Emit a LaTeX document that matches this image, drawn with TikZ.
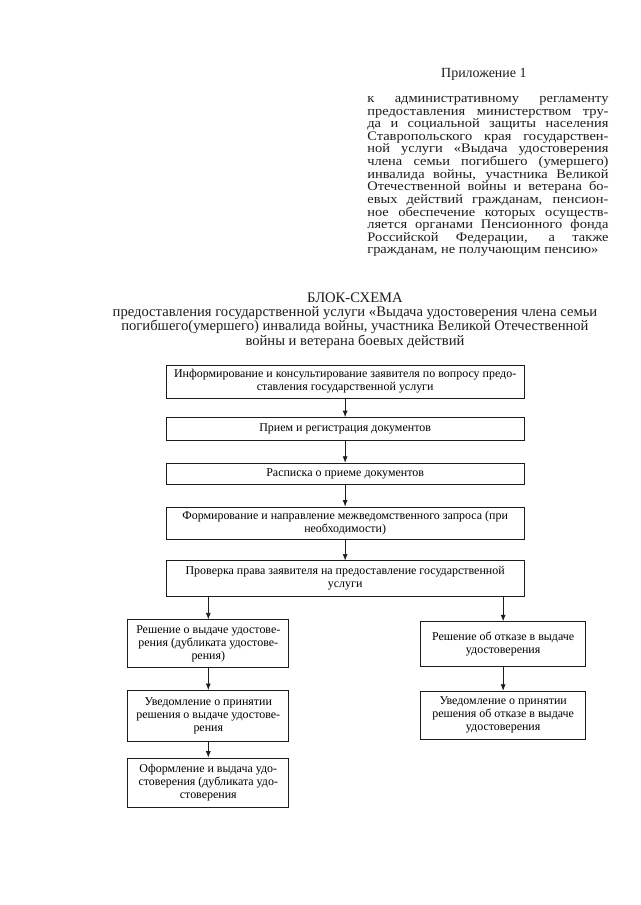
\documentclass[tikz,border=0pt]{standalone}
\usepackage{fontspec}
\setmainfont{Liberation Serif}
\newfontfamily\widefont[FakeStretch=1.11]{Liberation Serif}
\usetikzlibrary{arrows.meta,positioning}
\definecolor{Ink}{HTML}{1C1C1C}
\tikzset{
  stepbox/.style={draw=Ink,fill=white,line width=.5pt,align=center,inner xsep=.08cm,inner ysep=.05cm,font=\fontsize{9}{10}\selectfont},
  mainbox/.style={stepbox,minimum width=9.47cm},
  leftbox/.style={stepbox,minimum width=4.26cm},
  rightbox/.style={stepbox,minimum width=4.37cm},
  flow/.style={-{Latex[length=1.7mm,width=1.3mm]},draw=Ink,line width=.5pt},
  note/.style={inner sep=0pt,text=Ink,font=\widefont\fontsize{9.8}{9.5}\selectfont}
}
\begin{document}
\begin{tikzpicture}[node distance=.56cm]
  \useasboundingbox (0,0) rectangle (16.93,-23.94);
  % heading of the appendix
  \node[note,font=\fontsize{10.5}{10}\selectfont] (annex) at (12.80,-1.98) {Приложение 1};
  \node[note,anchor=north west,text width=6.38cm,align=justify] (regl) at (9.71,-2.54)
    {к административному регламенту\linebreak
     предоставления министерством тру-\linebreak
     да и социальной защиты населения\linebreak
     Ставропольского края государствен-\linebreak
     ной услуги «Выдача удостоверения\linebreak
     члена семьи погибшего (умершего)\linebreak
     инвалида войны, участника Великой\linebreak
     Отечественной войны и ветерана бо-\linebreak
     евых действий гражданам, пенсион-\linebreak
     ное обеспечение которых осуществ-\linebreak
     ляется органами Пенсионного фонда\linebreak
     Российской Федерации, а также\linebreak
     гражданам, не получающим пенсию»};
  \node[note,anchor=north,align=center,font=\fontsize{11}{10.8}\selectfont] (title) at (9.39,-7.73)
    {БЛОК-СХЕМА\\
     предоставления государственной услуги «Выдача удостоверения члена семьи\\
     погибшего(умершего) инвалида войны, участника Великой Отечественной\\
     войны и ветерана боевых действий};
  % main column
  \node[mainbox,minimum height=.87cm] (inform) at (9.13,-10.09)
    {Информирование и консультирование заявителя по вопросу предо-\\ставления государственной услуги};
  \node[mainbox,minimum height=.61cm,below=.50cm of inform] (accept) {Прием и регистрация документов};
  \node[mainbox,minimum height=.56cm,below=.58cm of accept] (receipt) {Расписка о приеме документов};
  \node[mainbox,minimum height=.85cm,below=.58cm of receipt] (request)
    {Формирование и направление межведомственного запроса (при\\необходимости)};
  \node[mainbox,minimum height=.93cm,below=.56cm of request] (check)
    {Проверка права заявителя на предоставление государственной\\услуги};
  \draw[flow] (inform) -- (accept);
  \draw[flow] (accept) -- (receipt);
  \draw[flow] (receipt) -- (request);
  \draw[flow] (request) -- (check);
  % positive decision
  \node[leftbox,minimum height=1.27cm,below=.61cm of check.south,xshift=-3.62cm] (grant)
    {Решение о выдаче удостове-\\рения (дубликата удостове-\\рения)};
  \node[leftbox,minimum height=1.35cm,below=.58cm of grant] (tellgrant)
    {Уведомление о принятии\\решения о выдаче удостове-\\рения};
  \node[leftbox,minimum height=1.30cm,below=.42cm of tellgrant] (issue)
    {Оформление и выдача удо-\\стоверения (дубликата удо-\\стоверения};
  \draw[flow] (check.south -| grant.north) -- (grant.north);
  \draw[flow] (grant) -- (tellgrant);
  \draw[flow] (tellgrant) -- (issue);
  % refusal
  \node[rightbox,minimum height=1.19cm,below=.66cm of check.south,xshift=4.18cm] (refuse)
    {Решение об отказе в выдаче\\удостоверения};
  \node[rightbox,minimum height=1.27cm,below=.63cm of refuse] (tellrefuse)
    {Уведомление о принятии\\решения об отказе в выдаче\\удостоверения};
  \draw[flow] (check.south -| refuse.north) -- (refuse.north);
  \draw[flow] (refuse) -- (tellrefuse);
\end{tikzpicture}
\end{document}
